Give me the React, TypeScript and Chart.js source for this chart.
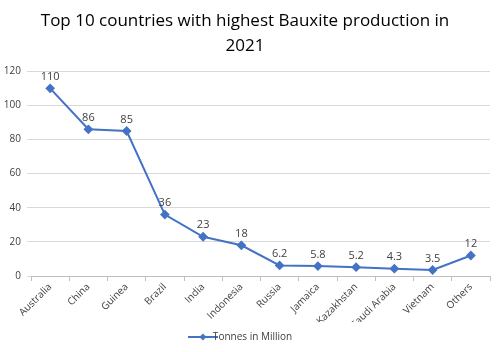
import React, { useEffect, useRef } from "react";
import { Chart, registerables } from "chart.js";

Chart.register(...registerables);

const countries = ["Australia", "China", "Guinea", "Brazil", "India", "Indonesia", "Russia", "Jamaica", "Kazakhstan", "Saudi Arabia", "Vietnam", "Others"];
const production = [110, 86, 85, 36, 23, 18, 6.2, 5.8, 5.2, 4.3, 3.5, 12];
const yTicks = [0, 20, 40, 60, 80, 100, 120];

const BLUE = "#4472C4";
const FONT = "'Open Sans', 'Liberation Sans', sans-serif";

function makeLegendIcon(): HTMLCanvasElement {
  const c = document.createElement("canvas");
  c.width = 30;
  c.height = 10;
  const ctx = c.getContext("2d")!;
  ctx.strokeStyle = BLUE;
  ctx.lineWidth = 2;
  ctx.beginPath();
  ctx.moveTo(0, 5);
  ctx.lineTo(30, 5);
  ctx.stroke();
  ctx.fillStyle = BLUE;
  ctx.beginPath();
  ctx.moveTo(15, 1.5);
  ctx.lineTo(18.5, 5);
  ctx.lineTo(15, 8.5);
  ctx.lineTo(11.5, 5);
  ctx.closePath();
  ctx.fill();
  return c;
}

const labelPlugin = {
  id: "valueLabels",
  afterDatasetsDraw(chart: any) {
    const ctx = chart.ctx;
    const meta = chart.getDatasetMeta(0);
    ctx.save();
    ctx.font = `11px ${FONT}`;
    ctx.fillStyle = "#404040";
    ctx.textAlign = "center";
    ctx.textBaseline = "bottom";
    meta.data.forEach((pt: any, i: number) => {
      ctx.fillText(String(production[i]), pt.x, pt.y - 6);
    });
    ctx.restore();
  },
};

export default function App() {
  const ref = useRef<HTMLCanvasElement>(null);
  useEffect(() => {
    document.body.style.margin = "0";
    const icon = makeLegendIcon();
    const chart = new Chart(ref.current!, {
      type: "line",
      data: {
        labels: countries,
        datasets: [
          {
            label: "Tonnes in Million",
            data: production,
            borderColor: BLUE,
            backgroundColor: BLUE,
            borderWidth: 2,
            pointStyle: "rectRot",
            pointRadius: 3.5,
            pointBackgroundColor: BLUE,
            pointBorderColor: BLUE,
            tension: 0,
          },
        ],
      },
      options: {
        animation: false,
        responsive: false,
        maintainAspectRatio: false,
        layout: { padding: { left: 0, right: 10, top: 0, bottom: 0 } },
        plugins: {
          title: {
            display: true,
            text: ["Top 10 countries with highest Bauxite production in", "2021"],
            font: { family: FONT, size: 17, weight: "normal", lineHeight: 1.45 },
            color: "#000000",
            padding: { top: 9, bottom: 13 },
          },
          legend: {
            display: true,
            position: "bottom",
            labels: {
              usePointStyle: true,
              pointStyle: icon as any,
              font: { family: FONT, size: 10 },
              color: "#404040",
              padding: 10,
              boxWidth: 30,
            },
          },
          tooltip: { enabled: false },
        },
        scales: {
          x: {
            offset: true,
            grid: {
              display: true,
              offset: true,
              drawOnChartArea: false,
              drawTicks: true,
              tickLength: 5,
              color: "#bfbfbf",
            },
            border: { display: true, color: "#bfbfbf" },
            ticks: {
              autoSkip: false,
              maxRotation: 45,
              minRotation: 45,
              font: { family: FONT, size: 10 },
              color: "#404040",
              padding: 0,
            },
            afterFit(scale: any) {
              scale.height = 46;
            },
          },
          y: {
            min: 0,
            max: 120,
            afterBuildTicks(scale: any) {
              scale.ticks = yTicks.map((v) => ({ value: v }));
            },
            grid: { color: "#d9d9d9", drawTicks: true, tickLength: 4 },
            border: { display: false },
            ticks: {
              font: { family: FONT, size: 10 },
              color: "#404040",
              padding: 6,
            },
            afterFit(scale: any) {
              scale.width = 31;
            },
          },
        },
      },
      plugins: [labelPlugin],
    });
    return () => chart.destroy();
  }, []);
  return (
    <div style={{ width: 500, height: 352 }}>
      <canvas ref={ref} width={500} height={352} style={{ width: 500, height: 352 }} />
    </div>
  );
}
